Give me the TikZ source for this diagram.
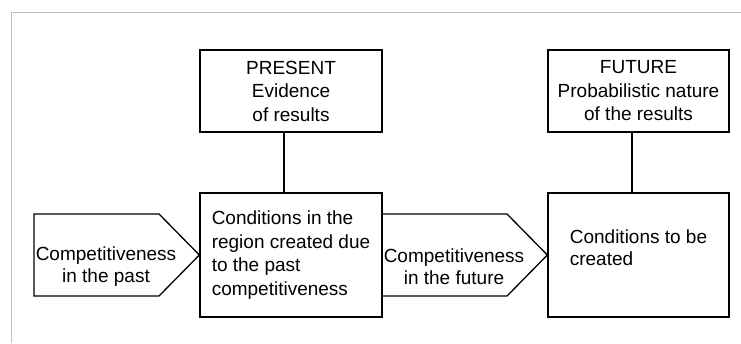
\documentclass[tikz,border=0pt]{standalone}
\usepackage{fontspec}
\setmainfont{Liberation Sans}
\begin{document}
\begin{tikzpicture}[x=1pt,y=-1pt,
        borde/.style={line width=1.3pt,line join=miter},
        caja/.style={borde,draw,inner sep=0pt,font=\fontsize{19}{23.5}\selectfont},
        texto/.style={inner sep=0pt,align=center,font=\fontsize{19}{22}\selectfont}]
        %colores
        \colorlet{marco}{black!25}

        \useasboundingbox (0,0) rectangle (741,343);
        % Marco
        \draw[marco,line width=1pt] (11,343) -- (11,12) -- (741,12);

        % Cajas de arriba
        \node[caja,align=center,minimum width=182pt,minimum height=82pt] (pres) at (291,91) {PRESENT\\Evidence\\of results};
        \node[caja,align=center,minimum width=181pt,minimum height=82pt] (fut) at (638.5,91) {FUTURE\\Probabilistic nature\\of the results};

        % Cajas de abajo
        \node[caja,align=left,minimum width=182pt,minimum height=124pt] (now) at (291,255) {Conditions in the\\region created due\\to the past\\competitiveness};
        \node[caja,minimum width=181pt,minimum height=124pt] (later) at (638.5,255) {};
        \node[texto,align=left] (tobe) at ([yshift=7pt]later.center) {Conditions to be\\created};

        % Flechas
        \draw[borde] (34,214) -- (159,214) -- (now.west) -- (159,296) -- (34,296) -- cycle;
        \draw[borde] (now.east |- 0,214) -- (507,214) -- (later.west) -- (507,296) -- (now.east |- 0,296);
        \node[texto] (past) at (106,267) {Competitiveness\\in the past};
        \node[texto] (next) at (454,267) {Competitiveness\\in the future};

        % Lineas verticales
        \draw[borde] ([xshift=-7pt]pres.south) -- ([xshift=-7pt]now.north);
        \draw[borde] ([xshift=-6.5pt]fut.south) -- ([xshift=-6.5pt]later.north);
    \end{tikzpicture}
\end{document}
